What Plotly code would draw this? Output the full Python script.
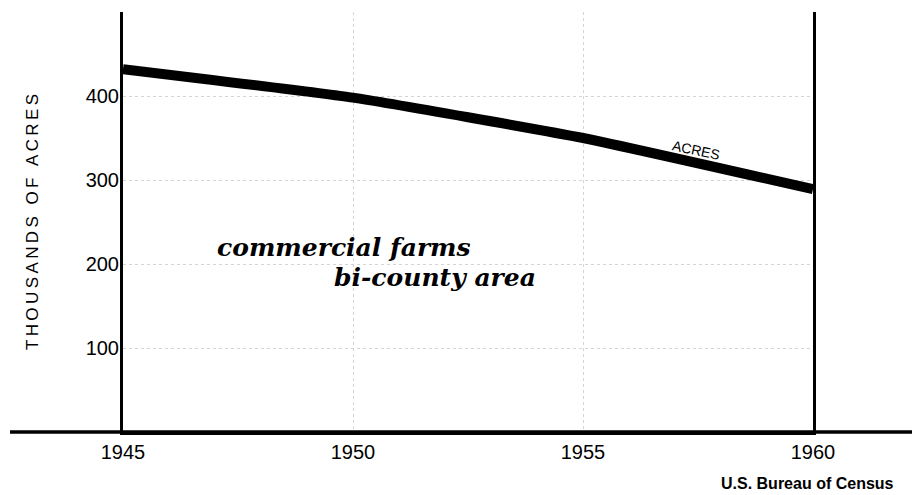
import plotly.graph_objects as go

years = [1945, 1950, 1955, 1960]
acres = [432, 398, 350, 289]  # thousands of acres
x_ticks = [1945, 1950, 1955, 1960]
y_ticks = [100, 200, 300, 400]
y_title = "THOUSANDS OF ACRES"
title_lines = ["commercial farms", "bi-county area"]
line_label = "ACRES"
source = "U.S. Bureau of Census"

W, H = 920, 495
OFF = 8  # page body margin offset compensation
X0, XR = 123, 813   # screen px of plot left/right
YT, YB = 12, 432    # screen px of plot top/bottom
pw = XR - X0
ph = YB - YT
ML, MT = X0 - OFF, YT - OFF
MR = W - ML - pw
MB = H - MT - ph

def spaced(s):
    return "\u2009".join(list(s))

fig = go.Figure()
fig.add_trace(go.Scatter(
    x=years, y=acres, mode="lines",
    line=dict(color="black", width=10, shape="spline", smoothing=0.4),
    hoverinfo="skip", showlegend=False,
))

# extended horizontal base line
fig.add_shape(type="line", xref="paper", yref="paper",
              x0=(10 - X0) / pw, x1=(W + 10 - X0) / pw, y0=0, y1=0,
              line=dict(color="black", width=3.5))

fig.add_annotation(x=1947.0, y=220, xref="x", yref="y", text=title_lines[0],
                   showarrow=False, xanchor="left", yanchor="middle",
                   font=dict(family="DejaVu Serif", size=25, color="black",
                             weight="bold", style="italic"))
fig.add_annotation(x=1949.55, y=184, xref="x", yref="y", text=title_lines[1],
                   showarrow=False, xanchor="left", yanchor="middle",
                   font=dict(family="DejaVu Serif", size=25, color="black",
                             weight="bold", style="italic"))
fig.add_annotation(x=1957.45, y=336, xref="x", yref="y", text=line_label,
                   showarrow=False, textangle=12,
                   font=dict(family="Liberation Sans", size=14, color="black"))
fig.add_annotation(x=(896 - X0) / pw, y=(YB - 483) / ph, xref="paper", yref="paper",
                   text=source, showarrow=False, xanchor="right", yanchor="middle",
                   font=dict(family="Liberation Sans", size=16,
                             color="black", weight="bold"))

fig.update_layout(
    width=W, height=H,
    margin=dict(l=ML, r=MR, t=MT, b=MB, autoexpand=False),
    paper_bgcolor="white", plot_bgcolor="white",
    font=dict(family="Liberation Sans", color="black"),
    xaxis=dict(range=[years[0], years[-1]], tickvals=x_ticks,
               ticktext=[str(v) for v in x_ticks],
               showline=True, linecolor="black", linewidth=3,
               showgrid=True, gridcolor="#d4d4d4", griddash="dot", gridwidth=1,
               zeroline=False, ticks="", tickfont=dict(size=20),
               ticklabelstandoff=0, fixedrange=True),
    yaxis=dict(range=[0, 500], tickvals=y_ticks,
               ticktext=[str(v) for v in y_ticks],
               showline=True, mirror=True, linecolor="black", linewidth=3,
               showgrid=True, gridcolor="#d4d4d4", griddash="dot", gridwidth=1,
               zeroline=False, ticks="", tickfont=dict(size=20),
               ticklabelstandoff=-3,
               title=dict(text=spaced(y_title), font=dict(size=17), standoff=43),
               fixedrange=True),
)

fig.write_html("out.html")
